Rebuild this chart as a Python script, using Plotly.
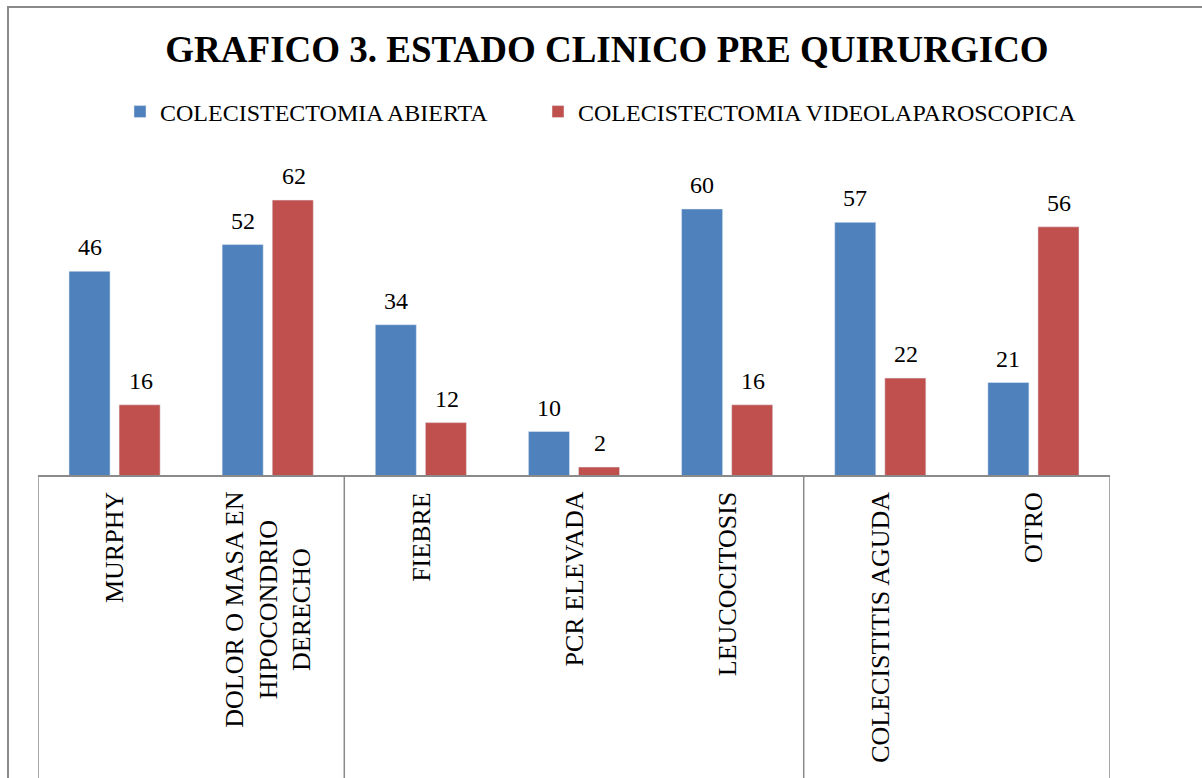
import plotly.graph_objects as go

categories = ["MURPHY", "DOLOR O MASA EN<br>HIPOCONDRIO<br>DERECHO", "FIEBRE", "PCR ELEVADA",
              "LEUCOCITOSIS", "COLECISTITIS AGUDA", "OTRO"]
abierta = [46, 52, 34, 10, 60, 57, 21]
video = [16, 62, 12, 2, 16, 22, 56]
series_names = ["COLECISTECTOMIA ABIERTA", "COLECISTECTOMIA VIDEOLAPAROSCOPICA"]
group_bounds = [-0.5, 1.5, 4.5, 6.5]

BLUE = "#4F81BD"
RED = "#C0504D"
GRAY = "#8A8A8A"
FONT = "Liberation Serif"

xidx = list(range(len(categories)))

fig = go.Figure()
fig.add_trace(go.Bar(x=xidx, y=abierta, name=series_names[0], marker_color=BLUE, legend="legend"))
fig.add_trace(go.Bar(x=xidx, y=video, name=series_names[1], marker_color=RED, legend="legend2"))

W, H = 1202, 778
L, R, T, B = 38, 92, 140, 302
plot_w = W - L - R
plot_h = H - T - B
px_per_unit = 4.45
ymax = plot_h / px_per_unit

annotations = []
for i, (a, v) in enumerate(zip(abierta, video)):
    annotations.append(dict(x=i, y=a, xref="x", yref="y", text=str(a), showarrow=False,
                            xshift=-25, yshift=24, yanchor="middle",
                            font=dict(family=FONT, size=24, color="black")))
    annotations.append(dict(x=i, y=v, xref="x", yref="y", text=str(v), showarrow=False,
                            xshift=26, yshift=24, yanchor="middle",
                            font=dict(family=FONT, size=24, color="black")))
for i, c in enumerate(categories):
    annotations.append(dict(x=i, y=0, xref="x", yref="paper", text=c, showarrow=False,
                            textangle=-90, yanchor="top", xanchor="center", yshift=-14,
                            align="center",
                            font=dict(family=FONT, size=26, color="black")))

def px_x(p):
    return (p - L) / plot_w

def px_y(p):
    return (H - B - p) / plot_h

shapes = []
shapes.append(dict(type="rect", xref="paper", yref="paper",
                   x0=px_x(8), x1=px_x(1240), y0=px_y(820), y1=px_y(7),
                   line=dict(color=GRAY, width=2), fillcolor="rgba(0,0,0,0)", layer="below"))
shapes.append(dict(type="line", xref="paper", yref="paper", x0=0, x1=1, y0=0, y1=0,
                   line=dict(color=GRAY, width=2)))
for gb in group_bounds:
    shapes.append(dict(type="line", xref="x", yref="paper", x0=gb, x1=gb,
                       y0=0, y1=px_y(820),
                       line=dict(color=GRAY, width=1.5)))

legend_font = dict(family=FONT, size=24, color="black")
fig.update_layout(
    width=W, height=H,
    margin=dict(l=L, r=R, t=T, b=B),
    paper_bgcolor="white", plot_bgcolor="white",
    barmode="group", bargap=0.346, bargroupgap=0.18,
    title=dict(text="<b>GRAFICO 3. ESTADO CLINICO PRE QUIRURGICO</b>",
               x=607 / W, xanchor="center", y=1 - 49 / H, yanchor="middle", yref="container",
               font=dict(family=FONT, size=37, color="black")),
    legend=dict(orientation="h", x=px_x(120), xanchor="left",
                y=px_y(112), yanchor="middle", font=legend_font, itemclick=False,
                bgcolor="rgba(0,0,0,0)"),
    legend2=dict(orientation="h", x=px_x(538), xanchor="left",
                 y=px_y(112), yanchor="middle", font=legend_font, itemclick=False,
                 bgcolor="rgba(0,0,0,0)"),
    xaxis=dict(range=[-0.5, 6.5], showticklabels=False, showgrid=False, zeroline=False,
               showline=False, ticks="", fixedrange=True),
    yaxis=dict(range=[0, ymax], visible=False, showgrid=False, zeroline=False, fixedrange=True),
    annotations=annotations,
    shapes=shapes,
    showlegend=True,
)

fig.write_html("out.html", config={"displayModeBar": False},
               post_script="document.body.style.margin='0';")
